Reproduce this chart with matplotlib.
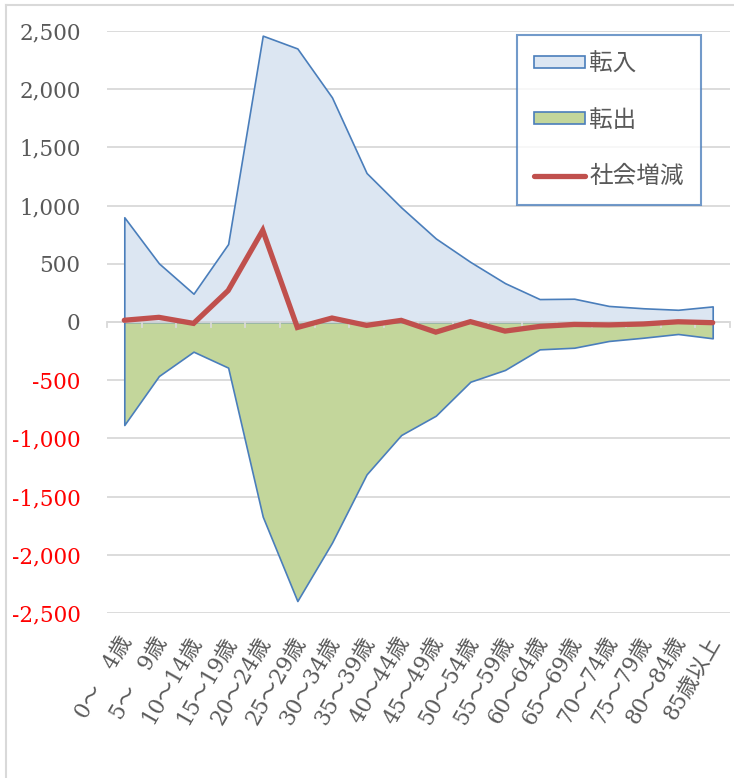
import matplotlib
matplotlib.use("Agg")
import matplotlib.pyplot as plt
from matplotlib.patches import Patch
from matplotlib.lines import Line2D
from matplotlib.ticker import FuncFormatter
import numpy as np

categories = ["0～　4歳", "5～　9歳", "10～14歳", "15～19歳", "20～24歳", "25～29歳",
              "30～34歳", "35～39歳", "40～44歳", "45～49歳", "50～54歳", "55～59歳",
              "60～64歳", "65～69歳", "70～74歳", "75～79歳", "80～84歳", "85歳以上"]
inflow = [900, 504, 243, 670, 2460, 2350, 1930, 1280, 985, 718, 516, 334,
          197, 200, 138, 118, 105, 134]
outflow = [-885, -464, -255, -392, -1672, -2397, -1896, -1309, -971, -805, -513, -412,
           -235, -221, -163, -135, -103, -140]
net = [15, 40, -12, 270, 788, -47, 34, -29, 14, -87, 3, -78,
       -38, -21, -25, -17, 2, -6]
yticks = [-2500, -2000, -1500, -1000, -500, 0, 500, 1000, 1500, 2000, 2500]

FONT = ["DejaVu Serif", "Noto Sans CJK JP"]
plt.rcParams["font.family"] = FONT

W, H = 734, 778
fig = plt.figure(figsize=(W / 100, H / 100), dpi=100)
ax = fig.add_axes([107 / W, 1 - 613 / H, (730 - 107) / W, (613 - 31) / H])

x = np.arange(len(categories))
blue_edge = "#4A7EBB"
ax.fill_between(x, 0, inflow, facecolor="#DCE6F2", edgecolor=blue_edge, linewidth=1.2, zorder=2)
ax.fill_between(x, 0, outflow, facecolor="#C3D69B", edgecolor=blue_edge, linewidth=1.2, zorder=2)
ax.plot(x, net, color="#C0504D", linewidth=3.8, solid_capstyle="round",
        solid_joinstyle="miter", zorder=4)

ax.set_xlim(-0.5, len(categories) - 0.5)
ax.set_ylim(-2500, 2500)
ax.set_yticks(yticks)
ax.yaxis.set_major_formatter(FuncFormatter(lambda v, p: f"{int(v):,}"))
ax.grid(axis="y", color="#D9D9D9", linewidth=1.3, zorder=0)
ax.set_axisbelow(True)
for s in ax.spines.values():
    s.set_visible(False)
ax.tick_params(axis="y", length=0, pad=19, labelsize=15.5)
for lab, v in zip(ax.get_yticklabels(), yticks):
    lab.set_color("#FF0000" if v < 0 else "#595959")
    lab.set_fontfamily(FONT)

# category axis at zero
ax.axhline(0, color="#D9D9D9", linewidth=1.3, zorder=3)
for b in np.arange(-0.5, len(categories), 1.0):
    ax.plot([b, b], [0, -45], color="#D9D9D9", linewidth=1.3, zorder=3, clip_on=False)

ax.set_xticks(x)
ax.set_xticklabels([])
ax.tick_params(axis="x", length=0)
for i, c in enumerate(categories):
    ax.annotate(c, xy=(i, -2500), xycoords="data", xytext=(2, -18), textcoords="offset points",
                rotation=60, ha="right", va="center", rotation_mode="anchor",
                fontsize=15.5, color="#595959", family=FONT, annotation_clip=False)

handles = [Patch(facecolor="#DCE6F2", edgecolor=blue_edge, linewidth=1.2),
           Patch(facecolor="#C3D69B", edgecolor=blue_edge, linewidth=1.2),
           Line2D([0], [0], color="#C0504D", linewidth=3.8, solid_capstyle="round")]
leg = ax.legend(handles, ["転入", "転出", "社会増減"], loc="upper left",
                bbox_to_anchor=((517 - 107) / (730 - 107), 1 - (35 - 31) / (613 - 31)),
                frameon=True, fancybox=False, fontsize=17, labelspacing=1.41,
                handlelength=2.16, handleheight=0.42, handletextpad=0.17,
                borderpad=0.73, borderaxespad=0)
leg.get_frame().set_edgecolor("#4F81BD")
leg.get_frame().set_linewidth(1.5)
for t in leg.get_texts():
    t.set_color("#595959")

# chart border (clipped at right/bottom)
fig.add_artist(Line2D([6 / W, 6 / W], [0, 1 - 5 / H], transform=fig.transFigure,
                      color="#D9D9D9", linewidth=1.5))
fig.add_artist(Line2D([6 / W, 1], [1 - 5 / H, 1 - 5 / H], transform=fig.transFigure,
                      color="#D9D9D9", linewidth=1.5))

fig.savefig("out.png", dpi=100)
